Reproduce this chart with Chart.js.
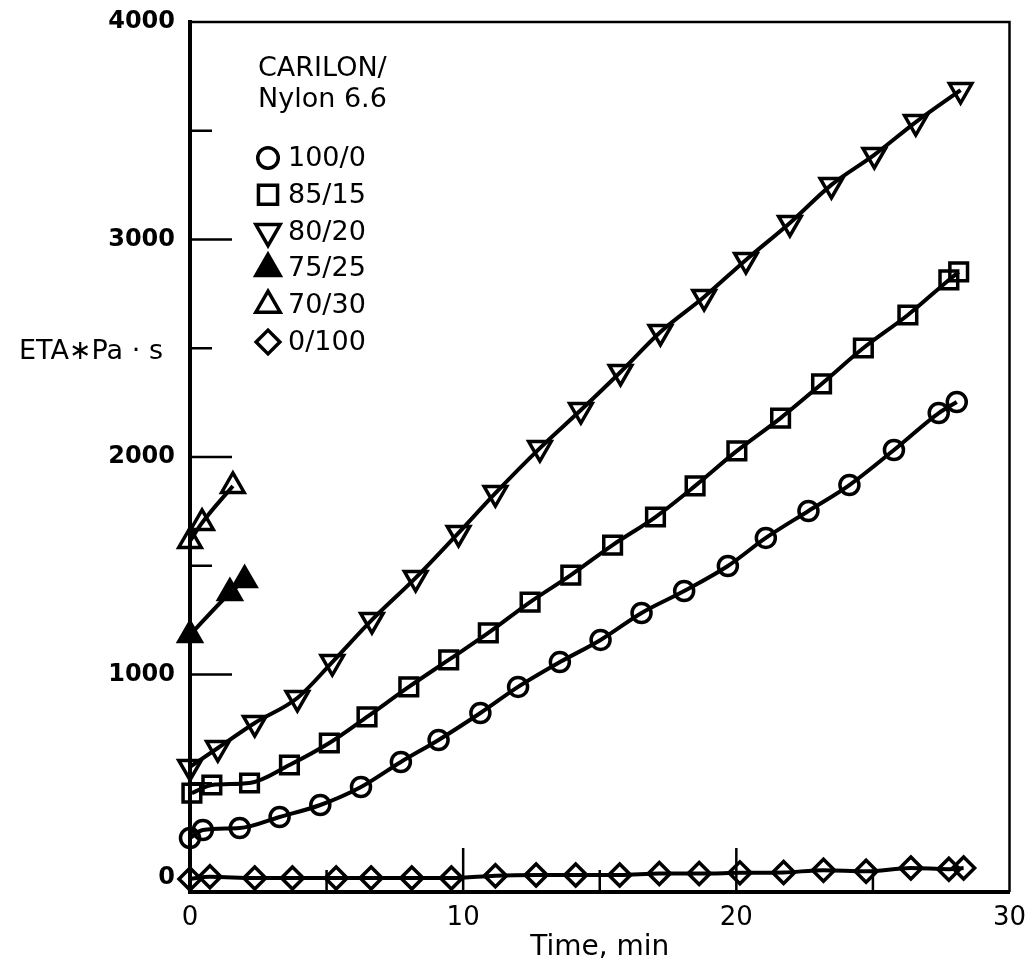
<!DOCTYPE html>
<html><head><meta charset="utf-8">
<script src="https://cdn.jsdelivr.net/npm/chart.js@4/dist/chart.umd.min.js"></script>
<style>html,body{margin:0;padding:0;background:#fff;} canvas{display:block;}</style>
</head><body>
<canvas id="c" width="1026" height="971"></canvas>
<script>
// ---- data ----
const seriesLabels = ['100/0', '85/15', '80/20', '75/25', '70/30', '0/100'];

const t100_0 = [0, 0.47, 1.82, 3.28, 4.77, 6.26, 7.72, 9.10, 10.63, 12.01, 13.54, 15.03, 16.53, 18.09, 19.69, 21.08, 22.64, 24.14, 25.77, 27.41, 28.07];
const eta100_0 = [248, 285, 294, 345, 400, 483, 598, 699, 823, 943, 1057, 1159, 1283, 1384, 1499, 1628, 1752, 1871, 2032, 2202, 2253];

const t85_15 = [0.07, 0.80, 2.18, 3.64, 5.10, 6.48, 8.01, 9.47, 10.92, 12.45, 13.94, 15.47, 17.04, 18.49, 20.02, 21.62, 23.12, 24.65, 26.28, 27.78, 28.14];
const eta85_15 = [455, 492, 501, 584, 685, 805, 943, 1067, 1191, 1333, 1457, 1595, 1724, 1867, 2028, 2179, 2336, 2501, 2653, 2814, 2851];

const t80_20 = [0, 1.02, 2.37, 3.93, 5.21, 6.66, 8.26, 9.83, 11.18, 12.81, 14.31, 15.76, 17.22, 18.82, 20.35, 21.96, 23.48, 25.05, 26.57, 28.21];
const eta80_20 = [575, 662, 777, 892, 1057, 1251, 1444, 1651, 1834, 2041, 2216, 2391, 2575, 2736, 2906, 3076, 3251, 3389, 3540, 3687];

const t75_25 = [0, 1.46, 2.0];
const eta75_25 = [1182, 1375, 1434];

const t70_30 = [0, 0.44, 1.57];
const eta70_30 = [1614, 1697, 1867];

const t0_100 = [0, 0.73, 2.37, 3.75, 5.35, 6.63, 8.12, 9.57, 11.18, 12.67, 14.12, 15.73, 17.18, 18.64, 20.13, 21.73, 23.19, 24.75, 26.39, 27.78, 28.32];
const eta0_100 = [60, 70, 64, 64, 64, 64, 64, 64, 75, 78, 78, 78, 85, 85, 88, 90, 100, 95, 110, 105, 110];

const xMajorTicks = [0, 10, 20, 30];
const xInnerMajor = [10, 20];
const xInnerMinor = [5, 15, 25];
const yMajorTicks = [0, 1000, 2000, 3000, 4000];
const yInnerMajor = [1000, 2000, 3000];
const yInnerMinor = [500, 1500, 2500, 3500];

const legendTitle = ['CARILON/', 'Nylon 6.6'];
const xTitle = 'Time, min';
const yTitle = 'ETA\u2217Pa \u00b7 s';

// ---- build datasets ----
function pts(xs, ys) { return xs.map((x, i) => ({x: x, y: ys[i]})); }
const FONT = '"DejaVu Sans", "Liberation Sans", sans-serif';
const styles = [
  {pointStyle: 'circle', radius: 9.5, rotation: 0, bg: 'rgba(0,0,0,0)'},
  {pointStyle: 'rect', radius: 12.5, rotation: 0, bg: 'rgba(0,0,0,0)'},
  {pointStyle: 'triangle', radius: 13, rotation: 180, bg: 'rgba(0,0,0,0)'},
  {pointStyle: 'triangle', radius: 13, rotation: 0, bg: '#000'},
  {pointStyle: 'triangle', radius: 13, rotation: 0, bg: 'rgba(0,0,0,0)'},
  {pointStyle: 'rectRot', radius: 11, rotation: 0, bg: 'rgba(0,0,0,0)'}
];
const seriesData = [pts(t100_0, eta100_0), pts(t85_15, eta85_15), pts(t80_20, eta80_20),
                    pts(t75_25, eta75_25), pts(t70_30, eta70_30), pts(t0_100, eta0_100)];
const datasets = seriesLabels.map((lab, i) => ({
  label: lab,
  data: seriesData[i],
  borderColor: '#000',
  borderWidth: 4,
  cubicInterpolationMode: 'monotone',
  fill: false,
  clip: false,
  pointStyle: styles[i].pointStyle,
  pointRadius: styles[i].radius,
  pointRotation: styles[i].rotation,
  pointBackgroundColor: styles[i].bg,
  pointBorderColor: '#000',
  pointBorderWidth: 3.5,
  pointHoverRadius: styles[i].radius
}));

// ---- plugins ----
const frameAndTicks = {
  id: 'frameAndTicks',
  afterDraw(chart) {
    const {ctx, chartArea: a, scales: {x, y}} = chart;
    ctx.save();
    ctx.strokeStyle = '#000';
    ctx.lineWidth = 2.5;
    ctx.beginPath();
    ctx.moveTo(a.left, a.top); ctx.lineTo(a.right, a.top); ctx.lineTo(a.right, a.bottom);
    ctx.stroke();
    ctx.lineWidth = 2.5;
    ctx.beginPath();
    yInnerMajor.forEach(v => { const p = y.getPixelForValue(v); ctx.moveTo(a.left, p); ctx.lineTo(a.left + 42, p); });
    yInnerMinor.forEach(v => { const p = y.getPixelForValue(v); ctx.moveTo(a.left, p); ctx.lineTo(a.left + 22, p); });
    xInnerMajor.forEach(v => { const p = x.getPixelForValue(v); ctx.moveTo(p, a.bottom); ctx.lineTo(p, a.bottom - 44); });
    xInnerMinor.forEach(v => { const p = x.getPixelForValue(v); ctx.moveTo(p, a.bottom); ctx.lineTo(p, a.bottom - 22); });
    ctx.stroke();
    ctx.restore();
  }
};

const insideLegend = {
  id: 'insideLegend',
  afterDraw(chart) {
    const {ctx, chartArea: a} = chart;
    ctx.save();
    ctx.fillStyle = '#000';
    ctx.font = '27px ' + FONT;
    ctx.textAlign = 'left';
    ctx.textBaseline = 'middle';
    ctx.fillText(legendTitle[0], a.left + 68, 69);
    ctx.fillText(legendTitle[1], a.left + 68, 100);
    chart.data.datasets.forEach((ds, i) => {
      const cy = 158 + i * 36.8;
      const mx = a.left + 78;
      ctx.fillStyle = ds.pointBackgroundColor;
      ctx.strokeStyle = '#000';
      ctx.lineWidth = 3.5;
      Chart.helpers.drawPoint(ctx, {pointStyle: ds.pointStyle, rotation: ds.pointRotation, radius: ds.pointRadius * 1.08, borderWidth: 3.5}, mx, cy);
      ctx.fillStyle = '#000';
      ctx.fillText(ds.label, a.left + 98, cy + 1);
    });
    ctx.font = '27px ' + FONT;
    ctx.fillText(yTitle, 19, 352);
    ctx.restore();
  }
};

new Chart(document.getElementById('c'), {
  type: 'line',
  data: {datasets: datasets},
  plugins: [frameAndTicks, insideLegend],
  options: {
    responsive: false,
    animation: false,
    events: [],
    layout: {padding: {left: 0, right: 13, top: 22, bottom: 0}},
    plugins: {legend: {display: false}, tooltip: {enabled: false}},
    scales: {
      x: {
        type: 'linear', min: 0, max: 30,
        afterBuildTicks(s) { s.ticks = xMajorTicks.map(v => ({value: v})); },
        afterFit(s) { s.height = 79; s.paddingLeft = 0; s.paddingRight = 0; },
        grid: {display: false, drawTicks: false},
        border: {display: true, color: '#000', width: 4},
        ticks: {color: '#000', font: {family: FONT, size: 26}, padding: 11, maxRotation: 0, callback: v => String(v)},
        title: {display: true, text: xTitle, color: '#000', font: {family: FONT, size: 28}, padding: {top: 0, bottom: 6}}
      },
      y: {
        type: 'linear', min: 0, max: 4000,
        afterBuildTicks(s) { s.ticks = yMajorTicks.map(v => ({value: v})); },
        afterFit(s) { s.width = 190; s.paddingTop = 0; s.paddingBottom = 0; },
        grid: {display: false, drawTicks: false},
        border: {display: true, color: '#000', width: 4},
        ticks: {color: '#000', font: {family: FONT, size: 24, weight: 'bold'}, padding: 15,
                callback: v => (v === 0 ? ['0', ''] : String(v))}
      }
    }
  }
});
</script>
</body></html>
